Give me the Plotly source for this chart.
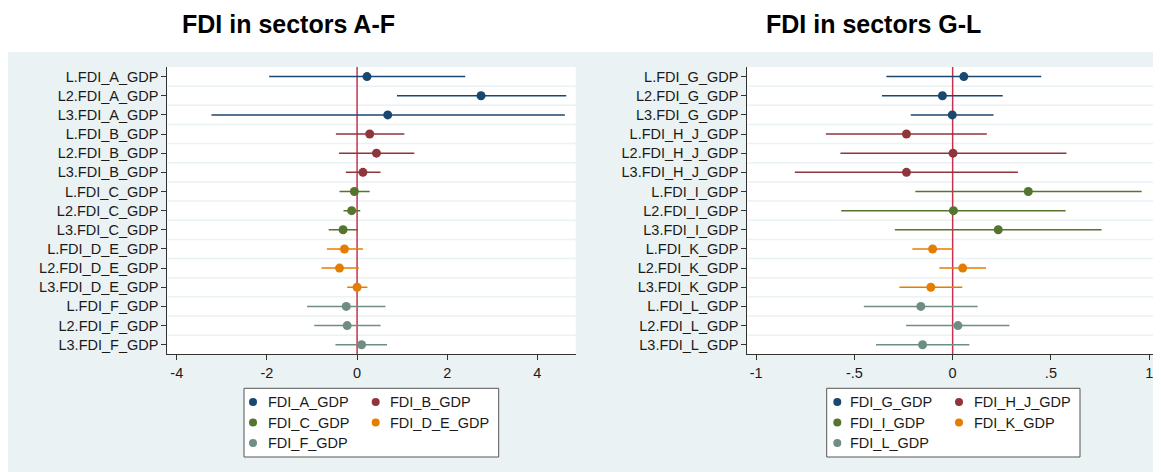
import plotly.graph_objects as go

# page is 1161x472; the html body has an 8px margin, so the figure is drawn 8px in
OFF = 8
W, H = 1161 - OFF, 472 - OFF

# ---------------- data: left panel (sectors A-F) ----------------
left_labels = ["L.FDI_A_GDP", "L2.FDI_A_GDP", "L3.FDI_A_GDP",
               "L.FDI_B_GDP", "L2.FDI_B_GDP", "L3.FDI_B_GDP",
               "L.FDI_C_GDP", "L2.FDI_C_GDP", "L3.FDI_C_GDP",
               "L.FDI_D_E_GDP", "L2.FDI_D_E_GDP", "L3.FDI_D_E_GDP",
               "L.FDI_F_GDP", "L2.FDI_F_GDP", "L3.FDI_F_GDP"]
left_series = ["FDI_A_GDP", "FDI_B_GDP", "FDI_C_GDP", "FDI_D_E_GDP", "FDI_F_GDP"]
left_coef = [0.22, 2.75, 0.68, 0.28, 0.43, 0.13, -0.06, -0.12, -0.31,
             -0.28, -0.39, 0.00, -0.24, -0.22, 0.10]
left_lo = [-1.95, 0.885, -3.23, -0.47, -0.40, -0.25, -0.39, -0.30, -0.63,
           -0.67, -0.79, -0.22, -1.11, -0.95, -0.48]
left_hi = [2.40, 4.64, 4.61, 1.05, 1.27, 0.52, 0.28, 0.07, 0.02,
           0.13, 0.04, 0.23, 0.63, 0.52, 0.665]
left_ticks = [-4, -2, 0, 2, 4]
left_ticktext = ["-4", "-2", "0", "2", "4"]

# ---------------- data: right panel (sectors G-L) ----------------
right_labels = ["L.FDI_G_GDP", "L2.FDI_G_GDP", "L3.FDI_G_GDP",
                "L.FDI_H_J_GDP", "L2.FDI_H_J_GDP", "L3.FDI_H_J_GDP",
                "L.FDI_I_GDP", "L2.FDI_I_GDP", "L3.FDI_I_GDP",
                "L.FDI_K_GDP", "L2.FDI_K_GDP", "L3.FDI_K_GDP",
                "L.FDI_L_GDP", "L2.FDI_L_GDP", "L3.FDI_L_GDP"]
right_series = ["FDI_G_GDP", "FDI_H_J_GDP", "FDI_I_GDP", "FDI_K_GDP", "FDI_L_GDP"]
right_coef = [0.057, -0.052, -0.002, -0.235, 0.002, -0.235, 0.385, 0.004, 0.232,
              -0.102, 0.051, -0.111, -0.162, 0.027, -0.153]
right_lo = [-0.337, -0.36, -0.213, -0.645, -0.571, -0.803, -0.19, -0.567, -0.294,
            -0.205, -0.068, -0.271, -0.452, -0.237, -0.39]
right_hi = [0.451, 0.255, 0.208, 0.174, 0.579, 0.332, 0.962, 0.575, 0.758,
            0.0, 0.17, 0.049, 0.127, 0.289, 0.085]
right_ticks = [-1, -0.5, 0, 0.5, 1]
right_ticktext = ["-1", "-.5", "0", ".5", "1"]

titles = ["FDI in sectors A-F", "FDI in sectors G-L"]
colors = ["#1A476F", "#90353B", "#55752F", "#E37E00", "#6E8E84"]

# ---------------- layout geometry (page pixels) ----------------
FONT = "Liberation Sans, Arial, sans-serif"
TXT = "#1a1a1a"
BG = "#EAF2F3"
plot_top, plot_bot = 67.0, 354.3
panels = [
    dict(x0=167.3, x1=575.7, rng=[-4.21, 4.85], title_x=288.0,
         leg=dict(x0=244.0, x1=498.7, mk=[253.0, 375.7], tx=[265.5, 388.0])),
    dict(x0=747.3, x1=1158.0, rng=[-1.045, 1.045], title_x=873.0,
         leg=dict(x0=826.7, x1=1080.0, mk=[837.3, 959.0], tx=[848.3, 971.7])),
]
leg_top, leg_bot = 388.3, 457.0
leg_rows = [402.0, 422.5, 443.0]


def px(x):
    return (x - OFF) / W


def py(y):
    return 1 - (y - OFF) / H


fig = go.Figure()
shapes = []
annotations = []

# white strip above the grey backdrop
shapes.append(dict(type="rect", xref="paper", yref="paper", x0=0, x1=1,
                   y0=py(52), y1=1, fillcolor="white", line_width=0, layer="below"))

panel_data = [
    (left_labels, left_series, left_coef, left_lo, left_hi, left_ticks, left_ticktext),
    (right_labels, right_series, right_coef, right_lo, right_hi, right_ticks, right_ticktext),
]

for p, (labels, series, coef, lo, hi, tv, tt) in enumerate(panel_data):
    xa = "x" if p == 0 else "x2"
    ya = "y" if p == 0 else "y2"
    geo = panels[p]
    for k, name in enumerate(series):
        sl = slice(3 * k, 3 * k + 3)
        c = coef[sl]
        plus = [h - v for h, v in zip(hi[sl], c)]
        minus = [v - l for v, l in zip(c, lo[sl])]
        fig.add_trace(go.Scatter(
            x=c, y=labels[sl], mode="markers", name=name, showlegend=False,
            xaxis=xa, yaxis=ya,
            marker=dict(color=colors[k], size=9, line=dict(width=0)),
            error_x=dict(type="data", symmetric=False, array=plus, arrayminus=minus,
                         color=colors[k], thickness=1.5, width=0),
        ))
    # grid lines between rows
    for i in range(len(labels) - 1):
        shapes.append(dict(type="line", xref=f"{xa} domain", yref=ya, x0=0, x1=1,
                           y0=i + 0.5, y1=i + 0.5, line=dict(color=BG, width=1.5),
                           layer="below"))
    # zero line
    shapes.append(dict(type="line", xref=xa, yref=f"{ya} domain", x0=0, x1=0,
                       y0=0, y1=1, line=dict(color="#C8324F", width=1.5), layer="below"))
    axis_common = dict(showline=True, linecolor="#333333", linewidth=1, ticks="outside",
                       ticklen=5, tickcolor="#333333", tickwidth=1, showgrid=False,
                       zeroline=False, tickfont=dict(family=FONT, size=14.5, color=TXT))
    xkey = "xaxis" if p == 0 else "xaxis2"
    ykey = "yaxis" if p == 0 else "yaxis2"
    fig.update_layout(**{
        xkey: dict(domain=[px(geo["x0"]), px(geo["x1"])], range=geo["rng"],
                   tickvals=tv, ticktext=tt, anchor=ya, **axis_common),
        ykey: dict(domain=[py(plot_bot), py(plot_top)], type="category",
                   categoryorder="array", categoryarray=labels,
                   range=[len(labels) - 0.5, -0.5], anchor=xa, **axis_common),
    })
    # title
    annotations.append(dict(xref="paper", yref="paper", x=px(geo["title_x"]), y=py(23.5),
                            xanchor="center", yanchor="middle", showarrow=False,
                            text=f"<b>{titles[p]}</b>",
                            font=dict(family=FONT, size=25, color="black")))
    # legend box
    lg = geo["leg"]
    shapes.append(dict(type="rect", xref="paper", yref="paper", x0=px(lg["x0"]),
                       x1=px(lg["x1"]), y0=py(leg_bot), y1=py(leg_top),
                       fillcolor="white", line=dict(color="#555555", width=1),
                       layer="above"))
    for k, name in enumerate(series):
        r, col = divmod(k, 2)
        cx, cy = lg["mk"][col], leg_rows[r]
        shapes.append(dict(type="circle", xref="paper", yref="paper",
                           x0=px(cx - 4), x1=px(cx + 4), y0=py(cy + 4), y1=py(cy - 4),
                           fillcolor=colors[k], line_width=0, layer="above"))
        annotations.append(dict(xref="paper", yref="paper", x=px(lg["tx"][col]), y=py(cy),
                                xanchor="left", yanchor="middle", showarrow=False,
                                text=name, font=dict(family=FONT, size=14.5, color=TXT)))

fig.update_layout(
    width=W, height=H, margin=dict(l=0, r=0, t=0, b=0),
    paper_bgcolor=BG, plot_bgcolor="white",
    shapes=shapes, annotations=annotations, showlegend=False,
)

fig.write_html("out.html")
